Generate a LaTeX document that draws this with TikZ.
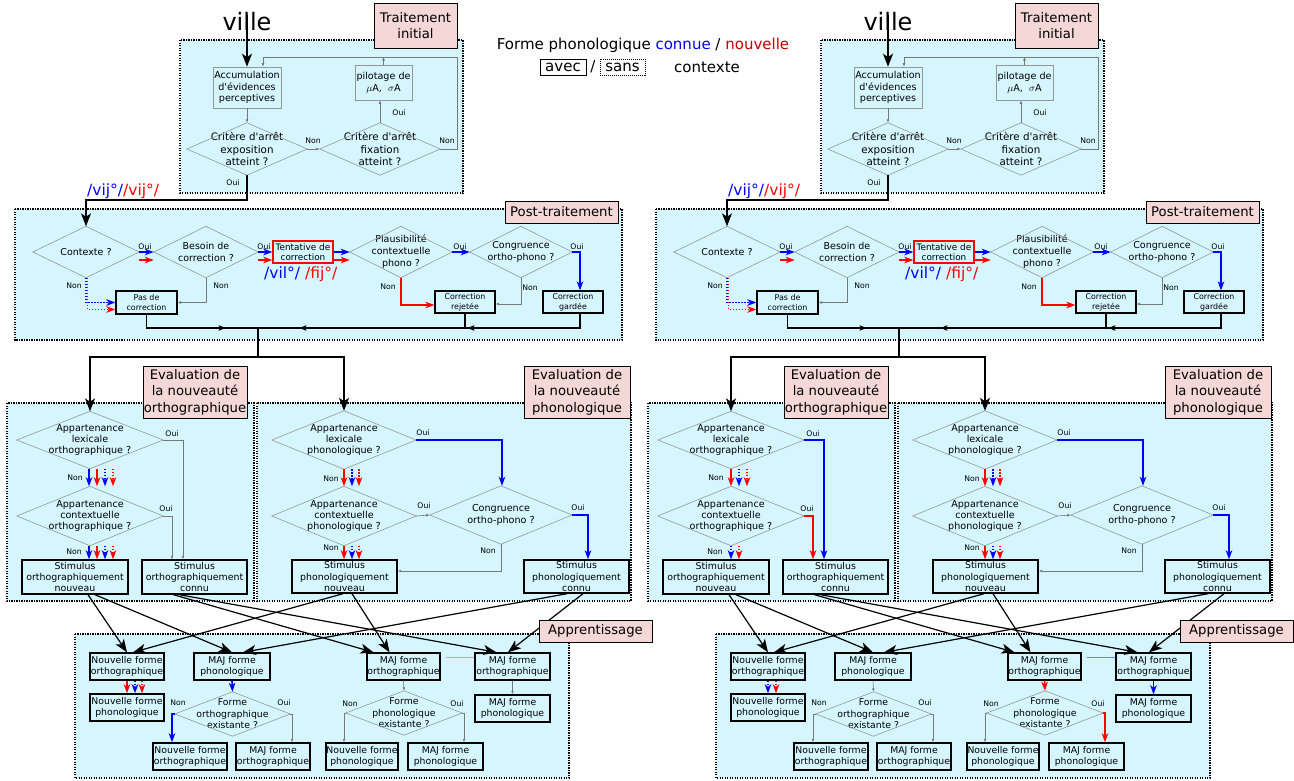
\documentclass[tikz,border=0pt]{standalone}
\usepackage{fontspec}
\setmainfont{DejaVu Sans}
\usetikzlibrary{arrows.meta,decorations.markings}
\definecolor{cyanbg}{RGB}{213,246,255}
\definecolor{pinkbg}{RGB}{244,215,215}
\definecolor{nred}{RGB}{200,0,0}
\definecolor{dgray}{RGB}{150,150,150}
\definecolor{lgray}{RGB}{120,120,120}
\newcommand\fsVille{\fontsize{24}{28}\selectfont}
\newcommand\fsLab{\fontsize{13.2}{16.5}\selectfont}
\newcommand\fsLeg{\fontsize{15}{18}\selectfont}
\newcommand\fsPh{\fontsize{15.5}{18}\selectfont}
\newcommand\fsTop{\fontsize{10.3}{12.2}\selectfont}
\newcommand\fsAcc{\fontsize{9.6}{11.8}\selectfont}
\newcommand\fsPost{\fontsize{9.5}{12}\selectfont}
\newcommand\fsSmall{\fontsize{7.9}{10.3}\selectfont}
\newcommand\fsTent{\fontsize{8.9}{10.5}\selectfont}
\newcommand\fsEval{\fontsize{9.6}{11.2}\selectfont}
\newcommand\fsStim{\fontsize{9.4}{11.4}\selectfont}
\newcommand\fsApp{\fontsize{9.3}{11.5}\selectfont}
\newcommand\fsYN{\fontsize{7.7}{9}\selectfont}
\tikzset{
 zone/.style={draw=black, fill=cyanbg, line width=1.2pt, dash pattern=on 1.2pt off 1.3pt},
 lbl/.style={draw=black, fill=pinkbg, line width=1pt, inner sep=0pt, align=center, font=\fsLab},
 gbox/.style={draw=dgray, line width=0.6pt, fill=cyanbg, inner sep=0pt, align=center},
 kbox/.style={draw=black, line width=1.4pt, fill=cyanbg, inner sep=0pt, align=center},
 sbox/.style={draw=black, line width=1.2pt, fill=cyanbg, inner sep=0pt, align=center, font=\fsSmall},
 rbox/.style={draw=red, line width=1.2pt, fill=cyanbg, inner sep=0pt, align=center, font=\fsTent},
 dtext/.style={inner sep=0pt, align=center},
 dline/.style={draw=dgray, line width=0.6pt},
 yn/.style={font=\fsYN, inner sep=0pt},
 gline/.style={draw=lgray, line width=0.6pt, -{Latex[length=3.5pt,width=2.8pt]}},
 kline/.style={draw=black, line width=1.1pt},
 bigarr/.style={draw=black, line width=1.2pt, -{Stealth[length=13pt,width=10pt,inset=3.5pt]}},
 carr/.style={line width=1.6pt, -{Stealth[length=9pt,width=6.5pt,inset=2.5pt]}},
 barr/.style={carr, draw=blue},
 rarr/.style={carr, draw=red},
 bdot/.style={barr, dash pattern=on 1.6pt off 1.4pt},
 rdot/.style={rarr, dash pattern=on 1.6pt off 1.4pt},
 midk/.style={postaction={decorate,decoration={markings,mark=at position #1 with {\arrow{Stealth[length=7pt,width=5.5pt,inset=1.5pt]}}}}},
}
\newcommand\dia[7][]{%
 \node[dtext,#1,minimum width=#5pt,minimum height=#6pt] (#2) at (#3,#4) {#7};
 \draw[dline] (#2.north) -- (#2.east) -- (#2.south) -- (#2.west) -- cycle;}
\newcommand\halfpart[1]{%
 \draw[zone] (180,40) rectangle (463,193);
 \draw[zone] (15,209) rectangle (622,340);
 \draw[zone] (7,403) rectangle (254,601);
 \draw[zone] (257,403) rectangle (631,601);
 \draw[zone] (75,634) rectangle (569,778);
 % ---- traitement initial
 \node[font=\fsVille, inner sep=0pt] (#1ville) at (247,22) {ville};
 \node[gbox, font=\fsAcc, minimum width=68pt, minimum height=41pt] (#1acc) at (247,87.5) {Accumulation\\d\textquotesingle évidences\\perceptives};
 \node[gbox, font=\fsAcc, minimum width=57pt, minimum height=35pt] (#1pil) at (383.5,82.5) {pilotage de\\$\mu$A,\ \ $\sigma$A};
 \dia[font=\fsTop]{#1d1}{247}{149}{120}{52}{Critère d\textquotesingle arrêt\\exposition\\atteint ?}
 \dia[font=\fsTop]{#1d2}{380}{149}{120}{52}{Critère d\textquotesingle arrêt\\fixation\\atteint ?}
 \node[lbl, minimum width=83pt, minimum height=45pt] (#1lt) at (415.5,25.5) {Traitement\\initial};
 \draw[line width=1.8pt, -{Stealth[length=13pt,width=10pt,inset=3.5pt]}] ([yshift=-2pt]#1ville.north) -- (#1acc.north);
 \draw[gline] (#1acc.south) -- (#1d1.north);
 \draw[gline] (#1d1.east) -- (#1d2.west);
 \draw[gline] (#1d2.north) -- (#1d2.north |- #1pil.south);
 \coordinate (#1lpA) at (457,57);
 \draw[gline] (#1d2.east) -| (#1lpA) -| ([xshift=16pt]#1acc.north);
 \draw[gline] (#1pil.north) -- (#1pil.north |- #1lpA);
 \node[yn] (#1t1) at (313,141) {Non};
 \node[yn] (#1t2) at (447,141) {Non};
 \node[yn] (#1t3) at (399,113) {Oui};
 \node[yn] (#1t4) at (233,183) {Oui};
 % ---- post-traitement
 \dia[font=\fsPost]{#1ctx}{86}{252}{106}{51}{Contexte ?}
 \dia[font=\fsPost]{#1bes}{206}{252}{104}{51}{Besoin de\\correction ?}
 \node[rbox, minimum width=60pt, minimum height=22pt] (#1tent) at (303,252) {Tentative de\\correction};
 \dia[font=\fsPost]{#1pla}{401}{252}{102}{51}{Plausibilité\\contextuelle\\phono ?}
 \dia[font=\fsPost]{#1con}{521}{252}{102}{51}{Congruence\\ortho-phono ?}
 \node[sbox, minimum width=61pt, minimum height=23pt] (#1pas) at (146.5,302.5) {Pas de\\correction};
 \node[sbox, minimum width=60pt, minimum height=22pt] (#1rej) at (465,302) {Correction\\rejetée};
 \node[sbox, minimum width=60pt, minimum height=22pt] (#1gar) at (573,302) {Correction\\gardée};
 \node[lbl, minimum width=113pt, minimum height=22pt] (#1lp) at (561.5,212) {Post-traitement};
 \coordinate (#1cA) at (86,200);
 \draw[bigarr] (#1d1.south) |- (#1cA) -- (#1ctx.north);
 \node[font=\fsPh, inner sep=0pt, anchor=west] (#1ph1) at (87,191) {\textcolor{blue}{/vij°/}\textcolor{red}{/vij°/}};
 \draw[barr] (#1ctx.east) -- (#1bes.west);
 \draw[rarr] ([yshift=-8pt]#1ctx.east) -- ([yshift=-8pt]#1bes.west);
 \draw[barr] (#1bes.east) -- (#1tent.west);
 \draw[rarr] ([yshift=-8pt]#1bes.east) -- ([yshift=-8pt]#1tent.west);
 \draw[barr] (#1tent.east) -- (#1pla.west);
 \draw[rarr] ([yshift=-8pt]#1tent.east) -- ([yshift=-8pt]#1pla.west);
 \draw[barr] (#1pla.east) -- (#1con.west);
 \draw[barr] (#1con.east) -| ([xshift=7pt]#1gar.north);
 \draw[bdot] (#1ctx.south) |- (#1pas.west);
 \draw[rdot] ([xshift=1.5pt]#1ctx.south) |- ([yshift=-7pt]#1pas.west);
 \draw[gline] (#1bes.south) |- (#1pas.east);
 \draw[rarr] (#1pla.south) |- ([yshift=-3pt]#1rej.west);
 \draw[gline] (#1con.south) |- ([yshift=-2pt]#1rej.east);
 \node[font=\fsPh, inner sep=0pt, anchor=west] (#1ph2) at (264,274) {\textcolor{blue}{/vil°/} \textcolor{red}{/fij°/}};
 \node[yn] (#1t5) at (145,247) {Oui};
 \node[yn] (#1t6) at (264,247) {Oui};
 \node[yn] (#1t7) at (460,247) {Oui};
 \node[yn] (#1t8) at (577,247) {Oui};
 \node[yn] (#1t9) at (74,286) {Non};
 \node[yn] (#1t10) at (221,286) {Non};
 \node[yn] (#1t11) at (388,287) {Non};
 \node[yn] (#1t12) at (530,288) {Non};
 \coordinate (#1m) at (258,328);
 \coordinate (#1s) at (258,357);
 \draw[kline, midk=92.5pt] (#1pas.south) |- (#1m);
 \draw[kline] (#1rej.south) |- (#1m);
 \draw[kline, midk=127pt, midk=295pt] ([xshift=7pt]#1gar.south) |- (#1m);
 \draw[kline] (#1m) -- (#1s);
 % ---- evaluation
 \dia[font=\fsEval]{#1alo}{90}{440}{146}{57}{Appartenance\\lexicale\\orthographique ?}
 \dia[font=\fsEval]{#1aco}{90}{516}{146}{59}{Appartenance\\contextuelle\\orthographique ?}
 \node[kbox, font=\fsStim, minimum width=106pt, minimum height=34pt] (#1son) at (75,577) {Stimulus\\orthographiquement\\nouveau};
 \node[kbox, font=\fsStim, minimum width=105pt, minimum height=34pt] (#1soc) at (194.5,577) {Stimulus\\orthographiquement\\connu};
 \dia[font=\fsEval]{#1alp}{344}{440}{144}{58}{Appartenance\\lexicale\\phonologique ?}
 \dia[font=\fsEval]{#1acp}{344}{516}{144}{59}{Appartenance\\contextuelle\\phonologique ?}
 \dia[font=\fsEval]{#1cop}{501}{515}{142}{58}{Congruence\\ortho-phono ?}
 \node[kbox, font=\fsStim, minimum width=105pt, minimum height=33pt] (#1spn) at (344.5,576.5) {Stimulus\\phonologiquement\\nouveau};
 \node[kbox, font=\fsStim, minimum width=105pt, minimum height=33pt] (#1spc) at (576.5,576.5) {Stimulus\\phonologiquement\\connu};
 \node[lbl, minimum width=104pt, minimum height=52pt] (#1leo) at (195,392) {Evaluation de\\la nouveauté\\orthographique};
 \node[lbl, minimum width=106pt, minimum height=52pt] (#1lep) at (577,392) {Evaluation de\\la nouveauté\\phonologique};
 \draw[bigarr] (#1s) -| (#1alo.north);
 \draw[bigarr] (#1s) -| (#1alp.north);
 \draw[barr] (#1alp.east) -| ([xshift=1pt]#1cop.north);
 \draw[rarr] (#1alp.south) -- (#1acp.north);
 \draw[bdot] ([xshift=8pt]#1alp.south) -- ([xshift=8pt]#1acp.north);
 \draw[rdot] ([xshift=15pt]#1alp.south) -- ([xshift=15pt]#1acp.north);
 \draw[rarr] (#1acp.south) -- (#1acp.south |- #1spn.north);
 \draw[bdot] ([xshift=8pt]#1acp.south) -- ([xshift=8pt]#1acp.south |- #1spn.north);
 \draw[rdot] ([xshift=15pt]#1acp.south) -- ([xshift=15pt]#1acp.south |- #1spn.north);
 \draw[gline] (#1acp.east) -- (#1cop.west);
 \draw[barr] (#1cop.east) -| ([xshift=11.5pt]#1spc.north);
 \draw[gline] (#1cop.south) |- ([yshift=5.5pt]#1spn.east);
 \node[yn] (#1e1) at (172,434) {Oui};
 \node[yn] (#1e2) at (166,509) {Oui};
 \node[yn] (#1e3) at (75,478) {Non};
 \node[yn] (#1e4) at (74,552) {Non};
 \node[yn] (#1e5) at (423,433) {Oui};
 \node[yn] (#1e6) at (424,506) {Oui};
 \node[yn] (#1e7) at (578,508) {Oui};
 \node[yn] (#1e8) at (488,551) {Non};
 \node[yn] (#1e9) at (331,479) {Non};
 \node[yn] (#1e10) at (331,548) {Non};
 % ---- apprentissage
 \node[kbox, font=\fsApp, minimum width=74pt, minimum height=27pt] (#1nfo) at (127,666.5) {Nouvelle forme\\orthographique};
 \node[kbox, font=\fsApp, minimum width=74pt, minimum height=27pt] (#1nfp) at (127,707.5) {Nouvelle forme\\phonologique};
 \node[kbox, font=\fsApp, minimum width=76pt, minimum height=27pt] (#1mfp) at (232,666.5) {MAJ forme\\phonologique};
 \dia[font=\fsApp]{#1dfo}{232.5}{714}{115}{44}{Forme\\orthographique\\existante ?}
 \node[kbox, font=\fsApp, minimum width=74pt, minimum height=27pt] (#1nfo2) at (190,756.5) {Nouvelle forme\\orthographique};
 \node[kbox, font=\fsApp, minimum width=74pt, minimum height=27pt] (#1mfo2) at (273,756.5) {MAJ forme\\orthographique};
 \node[kbox, font=\fsApp, minimum width=73pt, minimum height=27pt] (#1mfo) at (403.5,666.5) {MAJ forme\\orthographique};
 \dia[font=\fsApp]{#1dfp}{404}{713}{116}{44}{Forme\\phonologique\\existante ?}
 \node[kbox, font=\fsApp, minimum width=72pt, minimum height=27pt] (#1nfp2) at (362,756.5) {Nouvelle forme\\phonologique};
 \node[kbox, font=\fsApp, minimum width=75pt, minimum height=27pt] (#1mfp2) at (445.5,756.5) {MAJ forme\\phonologique};
 \node[kbox, font=\fsApp, minimum width=75pt, minimum height=27pt] (#1mfo3) at (512.5,666.5) {MAJ forme\\orthographique};
 \node[kbox, font=\fsApp, minimum width=75pt, minimum height=27pt] (#1mfp3) at (512.5,708.5) {MAJ forme\\phonologique};
 \node[yn] (#1a1) at (178,703) {Non};
 \node[yn] (#1a2) at (284,703) {Oui};
 \node[yn] (#1a3) at (350,704) {Non};
 \node[yn] (#1a4) at (457,704) {Oui};
 \draw[gline] (#1dfo.east) -| ([xshift=19pt]#1mfo2.north);
 \draw[gline] (#1dfp.west) -| ([xshift=-18pt]#1nfp2.north);
 \draw[bigarr] ([xshift=13pt]#1son.south) -- (#1nfo.north);
 \draw[bigarr] ([xshift=20pt]#1son.south) -- (#1mfp.north);
 \draw[bigarr] ([xshift=-21pt]#1soc.south) -- ([xshift=-30pt]#1mfo.north);
 \draw[bigarr] ([xshift=-15pt]#1soc.south) -- ([xshift=-16pt]#1mfo3.north);
 \draw[bigarr] ([xshift=-1.5pt]#1spn.south) -- ([xshift=6pt]#1nfo.north);
 \draw[bigarr] ([xshift=7.5pt]#1spn.south) -- ([xshift=-14pt]#1mfo.north);
 \draw[bigarr] ([xshift=-9.5pt]#1spc.south) -- ([xshift=11pt]#1mfp.north);
 \draw[bigarr] ([xshift=6.5pt]#1spc.south) -- ([xshift=-4.5pt]#1mfo3.north);
 \node[lbl, minimum width=113pt, minimum height=22pt] (#1la) at (595.5,631) {Apprentissage};
}
\begin{document}
\begin{tikzpicture}[x=1pt,y=-1pt]
\useasboundingbox (0,0) rectangle (1294,780);
\fill[white] (0,0) rectangle (1294,780);
% legend
\node[font=\fsLeg, inner sep=0pt] (leg1) at (643,45) {Forme phonologique \textcolor{blue}{connue} / \textcolor{nred}{nouvelle}};
\node[font=\fsLeg, draw=black, line width=0.9pt, inner sep=1.5pt, minimum width=46pt, minimum height=16pt] (leg2) at (563,67) {avec};
\node[font=\fsLeg, inner sep=0pt] (leg3) at (593,67) {/};
\node[font=\fsLeg, draw=black, line width=0.9pt, dash pattern=on 1pt off 1pt, inner sep=1.5pt, minimum width=45pt, minimum height=16pt] (leg4) at (622.5,67) {sans};
\node[font=\fsLeg, inner sep=0pt] (leg5) at (707,67) {contexte};
% ===== left half
\begin{scope}
\halfpart{L}
\draw[gline] (Lalo.east) -| ([xshift=-11.5pt]Lsoc.north);
\draw[gline] (Laco.east) -| ([xshift=-22.5pt]Lsoc.north);
\draw[barr] ([xshift=-1pt]Lalo.south) -- ([xshift=-1pt]Laco.north);
\draw[rarr] ([xshift=7pt]Lalo.south) -- ([xshift=7pt]Laco.north);
\draw[bdot] ([xshift=15pt]Lalo.south) -- ([xshift=15pt]Laco.north);
\draw[rdot] ([xshift=23pt]Lalo.south) -- ([xshift=23pt]Laco.north);
\draw[barr] ([xshift=-1pt]Laco.south) -- ([xshift=-1pt]Laco.south |- Lson.north);
\draw[rarr] ([xshift=7pt]Laco.south) -- ([xshift=7pt]Laco.south |- Lson.north);
\draw[bdot] ([xshift=15pt]Laco.south) -- ([xshift=15pt]Laco.south |- Lson.north);
\draw[rdot] ([xshift=23pt]Laco.south) -- ([xshift=23pt]Laco.south |- Lson.north);
\draw[rarr] (Lnfo.south) -- (Lnfp.north);
\draw[bdot] ([xshift=8pt]Lnfo.south) -- ([xshift=8pt]Lnfp.north);
\draw[rdot] ([xshift=15pt]Lnfo.south) -- ([xshift=15pt]Lnfp.north);
\draw[barr] (Lmfp.south) -- (Ldfo.north);
\draw[barr] (Ldfo.west) -| ([xshift=-18pt]Lnfo2.north);
\draw[gline] (Lmfo.south) -- (Ldfp.north);
\draw[gline] (Ldfp.east) -| ([xshift=18.5pt]Lmfp2.north);
\draw[gline] (Lmfo3.south) -- (Lmfp3.north);
\draw[draw={rgb,255:red,230;green,150;blue,160}, line width=0.6pt] ([xshift=5pt,yshift=9.5pt]Lmfo.east) -- ([yshift=9.5pt]Lmfo3.west);
\end{scope}
% ===== right half
\begin{scope}[xshift=641pt]
\halfpart{R}
\draw[barr] (Ralo.east) -| ([xshift=-11.5pt]Rsoc.north);
\draw[rarr] (Raco.east) -| ([xshift=-22.5pt]Rsoc.north);
\draw[rarr] (Ralo.south) -- (Raco.north);
\draw[bdot] ([xshift=8pt]Ralo.south) -- ([xshift=8pt]Raco.north);
\draw[rdot] ([xshift=16pt]Ralo.south) -- ([xshift=16pt]Raco.north);
\draw[bdot] (Raco.south) -- (Raco.south |- Rson.north);
\draw[rdot] ([xshift=8pt]Raco.south) -- ([xshift=8pt]Raco.south |- Rson.north);
\draw[bdot] (Rnfo.south) -- (Rnfp.north);
\draw[rdot] ([xshift=8pt]Rnfo.south) -- ([xshift=8pt]Rnfp.north);
\draw[gline] (Rmfp.south) -- (Rdfo.north);
\draw[gline] (Rdfo.west) -| ([xshift=-18pt]Rnfo2.north);
\draw[rarr] (Rmfo.south) -- (Rdfp.north);
\draw[rarr] (Rdfp.east) -| ([xshift=18.5pt]Rmfp2.north);
\draw[barr] (Rmfo3.south) -- (Rmfp3.north);
\draw[draw={rgb,255:red,120;green,120;blue,255}, line width=0.6pt] ([xshift=5pt,yshift=9.5pt]Rmfo.east) -- ([yshift=9.5pt]Rmfo3.west);
\end{scope}
\end{tikzpicture}
\end{document}
